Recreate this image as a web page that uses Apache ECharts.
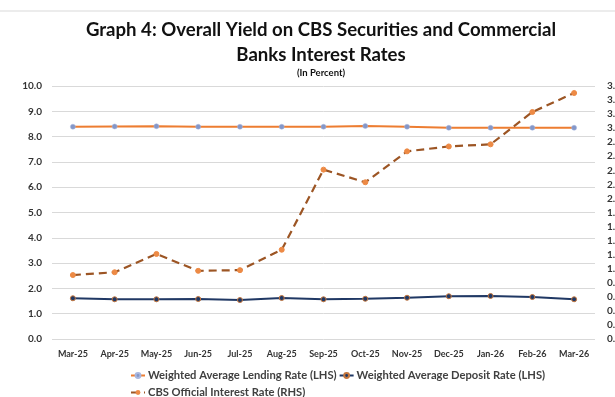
<!DOCTYPE html>
<html>
<head>
<meta charset="utf-8">
<script src="https://cdn.jsdelivr.net/npm/echarts@6/dist/echarts.min.js"></script>
<style>
  html, body { margin: 0; padding: 0; background: #fff; overflow: hidden; }
  #chart { width: 640px; height: 397px; }
</style>
</head>
<body>
<div id="chart"></div>
<script>
const months = ['Mar-25', 'Apr-25', 'May-25', 'Jun-25', 'Jul-25', 'Aug-25', 'Sep-25',
  'Oct-25', 'Nov-25', 'Dec-25', 'Jan-26', 'Feb-26', 'Mar-26'];
const lendingRate = [8.39, 8.40, 8.41, 8.39, 8.39, 8.39, 8.39, 8.42, 8.39, 8.35, 8.35, 8.35, 8.35];
const depositRate = [1.61, 1.57, 1.57, 1.58, 1.54, 1.62, 1.57, 1.59, 1.63, 1.69, 1.70, 1.66, 1.57];
const cbsRate = [0.91, 0.95, 1.21, 0.97, 0.98, 1.27, 2.41, 2.23, 2.67, 2.74, 2.77, 3.23, 3.50];
const leftTicks = { min: 0, max: 10, interval: 1 };
const rightTicks = { min: 0, max: 3.6, interval: 0.2 };

const font = 'Lato, "Open Sans", sans-serif';
// the chart is a bit wider than the window, so the right axis labels get cut off like in the original
const chart = echarts.init(document.getElementById('chart'));

chart.setOption({
  backgroundColor: '#fff',
  animation: false,
  textStyle: { fontFamily: font },
  graphic: [{
    type: 'line',
    shape: { x1: 0, y1: 11, x2: 640, y2: 11 },
    style: { stroke: '#d9d9d9', lineWidth: 1 }
  }, {
    type: 'text',
    x: 321, y: 30,
    style: {
      text: 'Graph 4: Overall Yield on CBS Securities and Commercial',
      font: 'bold 18.6px ' + font, fill: '#111', textAlign: 'center', textVerticalAlign: 'middle'
    }
  }, {
    type: 'text',
    x: 321, y: 55,
    style: {
      text: 'Banks Interest Rates',
      font: 'bold 18.6px ' + font, fill: '#111', textAlign: 'center', textVerticalAlign: 'middle'
    }
  }, {
    type: 'text',
    x: 321, y: 73,
    style: {
      text: '(In Percent)',
      font: 'bold 9.5px ' + font, fill: '#111', textAlign: 'center', textVerticalAlign: 'middle'
    }
  }],
  legend: [{
    data: ['Weighted Average Lending Rate (LHS)', 'Weighted Average Deposit Rate (LHS)'],
    left: 125, top: 365,
    itemWidth: 14, itemHeight: 6, itemGap: 2,
    textStyle: { fontSize: 11.2, fontWeight: 'bold', color: '#404040', padding: [0, 0, 0, -2] }
  }, {
    data: ['CBS Official Interest Rate (RHS)'],
    left: 125, top: 382,
    itemWidth: 14, itemHeight: 6, itemGap: 2,
    textStyle: { fontSize: 11.2, fontWeight: 'bold', color: '#404040', padding: [0, 0, 0, -2] }
  }],
  grid: { left: 52, right: 45, top: 86, bottom: 58 },
  xAxis: {
    type: 'category',
    data: months,
    boundaryGap: true,
    axisLine: { show: false },
    axisTick: { show: false },
    axisLabel: { fontSize: 9, fontWeight: 'bold', color: '#333', margin: 11, interval: 0 }
  },
  yAxis: [{
    type: 'value',
    min: leftTicks.min, max: leftTicks.max, interval: leftTicks.interval,
    axisLine: { show: false },
    axisTick: { show: false },
    splitLine: { lineStyle: { color: '#d9d9d9', width: 1 } },
    axisLabel: { fontSize: 10, fontWeight: 'bold', color: '#333', margin: 10, formatter: v => v.toFixed(1) }
  }, {
    type: 'value',
    position: 'right',
    min: rightTicks.min, max: rightTicks.max, interval: rightTicks.interval,
    axisLine: { show: false },
    axisTick: { show: false },
    splitLine: { show: false },
    axisLabel: { fontSize: 10, fontWeight: 'bold', color: '#333', margin: 12, formatter: v => v.toFixed(1) }
  }],
  series: [{
    name: 'Weighted Average Lending Rate (LHS)',
    type: 'line',
    yAxisIndex: 0,
    data: lendingRate,
    symbol: 'circle',
    symbolSize: 5,
    lineStyle: { color: '#ED7D31', width: 2 },
    itemStyle: { color: '#8497C8', borderColor: '#A9B8E0', borderWidth: 0.5 }
  }, {
    name: 'Weighted Average Deposit Rate (LHS)',
    type: 'line',
    yAxisIndex: 0,
    data: depositRate,
    symbol: 'circle',
    symbolSize: 5,
    lineStyle: { color: '#203864', width: 2 },
    itemStyle: { color: '#203864', borderColor: '#C5773E', borderWidth: 1 }
  }, {
    name: 'CBS Official Interest Rate (RHS)',
    type: 'line',
    yAxisIndex: 1,
    data: cbsRate,
    symbol: 'circle',
    symbolSize: 5,
    lineStyle: { color: '#9C5524', width: 2.2, type: [8, 5] },
    itemStyle: { color: '#ED8A45', borderColor: '#ED8A45' }
  }]
});
</script>
</body>
</html>
